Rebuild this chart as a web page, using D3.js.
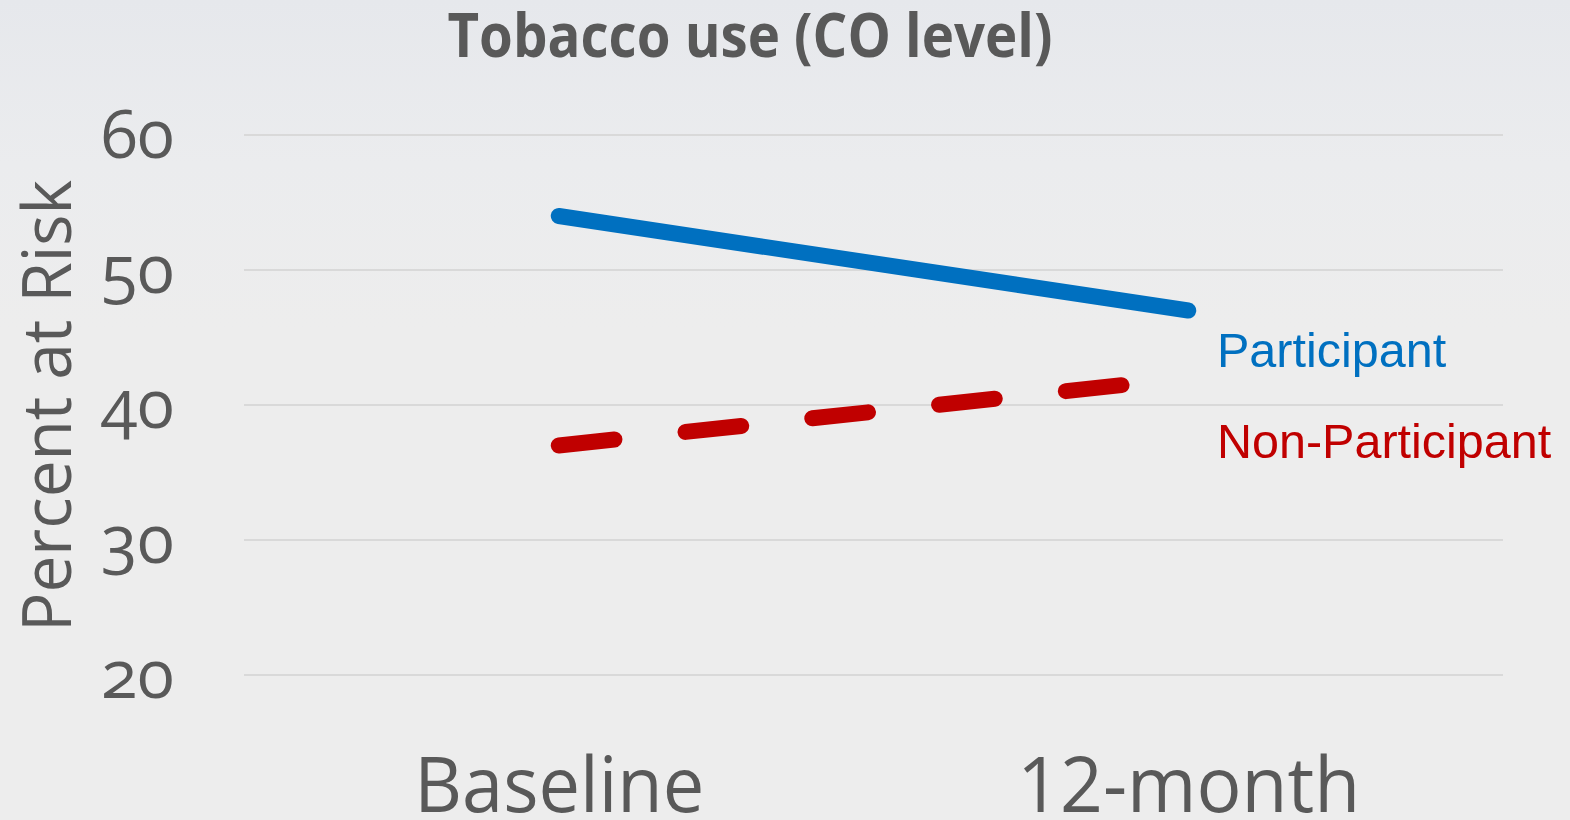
<!DOCTYPE html>
<html>
<head>
<meta charset="utf-8">
<script src="https://cdn.jsdelivr.net/npm/d3@7"></script>
<style>
  html, body { margin: 0; padding: 0; background: #ededed; overflow: hidden; }
  svg { display: block; }
</style>
</head>
<body>
<svg id="chart" width="1570" height="820"></svg>
<script>
// Data
const categories = ["Baseline", "12-month"];
const participant = [54, 47];
const nonParticipant = [37, 42];
const yTicks = [20, 30, 40, 50, 60];
const seriesNames = ["Participant", "Non-Participant"];
const seriesColors = ["#0070C0", "#C00000"];

const W = 1570, H = 820;
const plot = { left: 244, right: 1503, top: 135, bottom: 675 };

const svg = d3.select("#chart");

// Background: soft grey with a faint cool haze toward the top
const defs = svg.append("defs");
const bg = defs.append("linearGradient").attr("id", "bg").attr("x1", 0).attr("y1", 0).attr("x2", 0).attr("y2", 1);
bg.append("stop").attr("offset", "0%").attr("stop-color", "#e6e8ec");
bg.append("stop").attr("offset", "20%").attr("stop-color", "#ebecee");
bg.append("stop").attr("offset", "40%").attr("stop-color", "#ededed");
bg.append("stop").attr("offset", "100%").attr("stop-color", "#ededed");
svg.append("rect").attr("width", W).attr("height", H).attr("fill", "url(#bg)");

const x = d3.scalePoint().domain(categories).range([plot.left, plot.right]).padding(0.5);
const y = d3.scaleLinear().domain([20, 60]).range([plot.bottom, plot.top]);

// Gridlines
svg.append("g").selectAll("line").data(yTicks).join("line")
  .attr("x1", plot.left).attr("x2", plot.right)
  .attr("y1", d => y(d)).attr("y2", d => y(d))
  .attr("stroke", "#d9d9d9").attr("stroke-width", 2);

// Y axis labels
const yAxis = d3.axisLeft(y).tickValues(yTicks).tickSize(0).tickPadding(0);
const gy = svg.append("g").attr("transform", "translate(174,0)").call(yAxis);
gy.select(".domain").remove();
gy.selectAll("text")
  .attr("fill", "#595959")
  .attr("font-family", "'Open Sans', 'Noto Sans', sans-serif")
  .attr("font-size", 67)
  .attr("dy", "0.34em")
  .style("font-variant-numeric", "oldstyle-nums")
  .style("font-feature-settings", "'onum' 1");

// X axis labels
const xAxis = d3.axisBottom(x).tickSize(0).tickPadding(0);
const gx = svg.append("g").attr("transform", "translate(0,812)").call(xAxis);
gx.select(".domain").remove();
gx.selectAll("text")
  .attr("fill", "#595959")
  .attr("font-family", "'Open Sans', 'Noto Sans', sans-serif")
  .attr("font-size", 77)
  .attr("dy", 0)
  .attr("textLength", (d, i) => [290, 343][i])
  .attr("lengthAdjust", "spacingAndGlyphs");

// Y axis title
svg.append("text")
  .attr("transform", "translate(71,406) rotate(-90)")
  .attr("text-anchor", "middle")
  .attr("fill", "#595959")
  .attr("font-family", "'Open Sans', 'Noto Sans', sans-serif")
  .attr("font-size", 68)
  .attr("textLength", 452)
  .attr("lengthAdjust", "spacingAndGlyphs")
  .text("Percent at Risk");

// Title
svg.append("text")
  .attr("x", 750).attr("y", 57)
  .attr("text-anchor", "middle")
  .attr("fill", "#595959")
  .attr("font-family", "'Open Sans', 'Noto Sans', sans-serif")
  .attr("font-weight", "bold")
  .attr("font-size", 60)
  .attr("textLength", 605)
  .attr("lengthAdjust", "spacingAndGlyphs")
  .text("Tobacco use (CO level)");

// Lines
const line = d3.line().x((d, i) => x(categories[i])).y(d => y(d));

svg.append("path")
  .datum(participant)
  .attr("d", line)
  .attr("fill", "none")
  .attr("stroke", seriesColors[0])
  .attr("stroke-width", 16)
  .attr("stroke-linecap", "round");

svg.append("path")
  .datum(nonParticipant)
  .attr("d", line)
  .attr("fill", "none")
  .attr("stroke", seriesColors[1])
  .attr("stroke-width", 16)
  .attr("stroke-linecap", "round")
  .attr("stroke-dasharray", "56,71.5");

// Legend labels
const legendY = [367, 458];
svg.append("g").selectAll("text").data(seriesNames).join("text")
  .attr("x", 1217)
  .attr("y", (d, i) => legendY[i])
  .attr("fill", (d, i) => seriesColors[i])
  .attr("font-family", "'Liberation Sans', Arial, sans-serif")
  .attr("font-size", 48.5)
  .text(d => d);
</script>
</body>
</html>
